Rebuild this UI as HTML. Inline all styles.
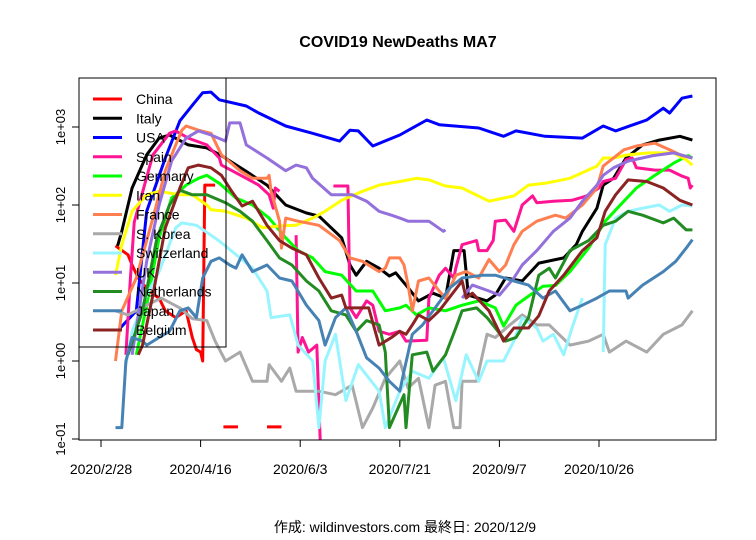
<!DOCTYPE html>
<html><head><meta charset="utf-8"><style>
body{margin:0;background:#fff;}
svg{display:block;font-family:"Liberation Sans","Noto Sans CJK JP",sans-serif;}
</style></head><body>
<svg id="chart" width="756" height="540" viewBox="0 0 756 540" xmlns="http://www.w3.org/2000/svg">
<rect width="756" height="540" fill="#fff"/>
<text x="398" y="47" text-anchor="middle" font-size="16" font-weight="bold">COVID19 NewDeaths MA7</text>
<text x="405" y="532" text-anchor="middle" font-size="14">作成: wildinvestors.com 最終日: 2020/12/9</text>
<defs><clipPath id="pc"><rect x="79" y="78" width="637" height="362"/></clipPath></defs>
<g id="axes"></g>
<g id="series" clip-path="url(#pc)"></g>
<rect x="79" y="78" width="637" height="362" fill="none" stroke="#000" stroke-width="1"/>
<g id="legend"></g>
</svg>
<script>
// x = days since 2020-02-28
const xTickDays = [0, 48, 96, 144, 192, 240];
const xTickLabels = ["2020/2/28", "2020/4/16", "2020/6/3", "2020/7/21", "2020/9/7", "2020/10/26"];
const yTickValues = [0.1, 1, 10, 100, 1000];
const yTickLabels = ["1e-01", "1e+00", "1e+01", "1e+02", "1e+03"];
const seriesNames = ["China","Italy","USA","Spain","Germany","Iran","France","S. Korea","Switzerland","UK","Netherlands","Japan","Belgium"];
const seriesColors = ["#ff0000","#000000","#0000ff","#ff1493","#00ff00","#ffff00","#ff7f50","#a9a9a9","#98f5ff","#9370db","#228b22","#4682b4","#8b2323"];
// each series: days and values (null = gap)
const chinaDays = [7,13,15,18,23,28,31,36,41,44,46,48,49,50,55,null,59,66,null,80,87];
const chinaVals = [30,23,17,11.6,7.9,6.4,4.4,3.6,4.4,2.0,1.4,1.3,1.0,180,180,null,0.143,0.143,null,0.143,0.143];
const italyDays = [8,10,15,22,28,33,42,51,58,70,80,89,99,105,116,120,123,128,134,139,142,148,153,160,166,170,175,177,186,190,195,203,211,223,229,232,239,242,247,253,261,269,279,285];
const italyVals = [30,46,165,440,720,790,590,540,430,270,180,100,79,72,38,17,12.6,19,15.5,12.3,13.5,8.7,5.9,7.4,6.4,26,26,7,5.9,7,11.6,10.6,18,21,31,46,91,180,220,400,590,680,760,680];
const usaDays = [9,17,22,31,38,44,49,53,57,70,76,89,102,115,120,124,131,144,157,163,182,194,200,214,232,242,248,263,271,274,280,285];
const usaVals = [2.6,4.4,83,400,1200,1900,2750,2800,2230,1860,1510,1030,830,660,910,890,570,790,1230,1070,970,760,890,760,720,1030,890,1230,1740,1510,2340,2500];
const spainDays = [12,14,16,25,33,36,42,51,57,58,70,76,81,83,84,86,null,94,95,97,100,104,106,null,112,119,120,123,128,131,134,139,144,147,157,158,163,166,170,171,174,181,182,186,189,190,195,199,203,208,210,218,227,234,240,242,248,253,256,258,267,274,280,283,284,285];
const spainVals = [1.2,10,60,440,830,890,720,590,400,325,220,180,135,91,165,150,null,41,1.3,2,1.3,1.6,0.05,null,175,175,4.8,3.6,5.9,5.2,2.4,2.2,2.4,1.8,1.85,6.4,12.6,15.5,11.6,15.5,31,35,26,26,35,62,64,46,100,131,107,112,115,131,165,200,220,380,400,300,280,280,235,220,165,180];
const germanyDays = [17,22,28,34,41,47,51,57,65,73,81,89,95,102,108,116,123,131,137,144,147,152,158,166,174,182,190,194,200,206,213,219,226,235,243,252,258,267,276,283,285];
const germanyVals = [1.2,5.2,38,123,180,220,240,190,123,100,68,38,26,21,14,12.6,7.9,7.9,4.4,4.8,5.2,3.9,4.8,4.4,5.2,5.9,4.8,2.8,5.2,6.8,9.1,9.3,14,28,62,112,165,240,345,430,400];
const iranDays = [7,10,15,22,28,38,44,51,53,60,70,78,86,94,102,108,116,126,134,144,152,158,166,174,187,199,206,214,226,239,242,247,254,264,276,282,285];
const iranVals = [12.6,31,83,135,150,135,135,100,87,83,68,51,54,55,68,83,115,150,180,200,220,210,175,165,112,131,180,190,220,315,400,400,440,465,465,380,325];
const franceDays = [7,10,17,25,31,36,39,41,47,53,58,67,73,80,81,82,86,87,89,95,105,115,120,126,134,137,139,144,146,148,150,153,158,163,166,171,176,182,187,192,195,199,203,210,219,224,232,239,242,252,258,267,274,280,285];
const franceVals = [1.0,4.4,11.6,68,275,590,910,1030,910,830,440,275,220,220,240,150,62,28,68,62,55,35,21,19,14,15.5,21,21,17,9.4,4.4,10.6,11.6,7.9,6.4,12.6,14,11.6,20,14,17,31,46,62,74,68,100,165,315,510,570,620,510,430,400];
const koreaDays = [7,13,22,29,38,44,51,55,60,67,73,80,81,87,91,94,105,113,121,126,131,137,144,148,153,158,161,166,170,173,174,181,186,190,197,203,210,216,226,235,242,245,253,263,271,280,285];
const koreaVals = [4.4,3.9,5.2,6.4,4.8,3.5,3.3,1.8,1.0,1.3,0.55,0.55,0.9,0.55,0.81,0.41,0.41,0.37,0.49,0.14,0.25,0.6,1.0,0.45,0.6,0.14,0.49,0.55,0.14,0.14,0.55,0.55,2.2,2.0,2.9,3.9,2.9,2.9,1.6,1.8,2.2,1.3,1.8,1.3,2.2,2.9,4.4];
const swissDays = [12,15,22,28,36,39,46,53,58,67,73,80,82,91,95,102,105,108,113,118,124,134,137,144,150,158,165,171,176,182,186,194,199,203,210,213,218,223,227,232,null,242,243,248,254,261,269,274,280,285];
const swissVals = [0.9,2.4,7,14,51,59,55,41,33,21,15.5,7.9,3.6,3.9,1.6,1.0,0.14,1.0,2.2,0.31,0.9,0.41,0.14,0.41,0.74,0.6,1.1,0.31,1.2,0.55,1.0,1.0,1.8,3.6,2.65,1.8,2.2,1.2,2.65,6.4,null,1.3,31,68,83,91,100,83,100,97];
const ukDays = [15,22,28,34,41,47,53,60,62,67,70,80,89,94,99,102,111,121,128,134,140,144,148,158,165,166,null,174,179,187,192,199,203,210,218,226,232,239,242,247,254,266,276,285];
const ukVals = [1.2,19,100,365,720,890,790,660,1130,1130,590,400,275,325,300,220,135,135,112,83,74,68,62,62,46,48,null,6.4,9.4,7.9,7,11.6,17,26,46,68,112,180,240,300,365,430,465,400];
const nethDays = [13,20,27,33,38,44,51,60,67,73,80,86,92,99,105,111,118,123,128,134,137,139,146,147,150,157,160,166,171,174,181,186,190,195,200,206,211,216,219,226,235,242,248,254,261,271,276,282,285];
const nethVals = [1.2,4.4,38,100,155,135,135,107,83,62,35,21,17,10.6,7.9,4.4,3.9,2.4,3.3,2.9,1.3,0.14,0.37,0.14,1.2,1.3,0.74,1.2,2.65,4.4,4.8,3.6,2.65,1.8,2.0,3.6,12.6,15.5,11.6,26,35,55,62,83,74,59,68,48,48];
const japanDays = [7,10,12,15,20,22,28,33,38,42,46,49,53,57,62,65,68,73,80,86,92,99,105,108,113,118,123,128,134,139,144,146,150,155,161,168,174,184,190,199,206,213,219,226,232,239,245,253,254,261,271,277,282,285];
const japanVals = [0.14,0.14,1.0,2.0,1.8,1.6,2.0,2.4,4.4,4.8,3.6,11.6,19,21,17,15.5,23,14,17,11.6,10.6,5.2,3.3,1.6,3.6,4.8,2.4,1.1,0.81,0.55,0.41,0.74,2.2,2.9,4.8,8.6,11.6,12.6,12.6,10.6,9.4,6.4,7.9,4.4,5.2,6.4,7.9,7.9,6.4,9.4,14,19,28,36];
const belgiumDays = [18,20,25,31,38,42,47,53,58,63,68,73,80,86,92,99,105,111,116,118,129,134,140,144,147,150,153,158,163,174,176,179,187,194,199,206,211,216,223,232,239,243,248,254,263,271,279,285];
const belgiumVals = [1.2,1.6,7,51,165,300,325,300,240,150,97,112,55,35,28,23,11.6,6.4,7,4.8,4.8,1.6,2.0,2.4,2.2,2.9,3.9,3.3,4.4,10.6,6.4,7.4,4.4,1.8,2.65,2.65,3.8,7.9,12.6,26,38,83,135,210,200,165,115,100];

const allDays = [chinaDays,italyDays,usaDays,spainDays,germanyDays,iranDays,franceDays,koreaDays,swissDays,ukDays,nethDays,japanDays,belgiumDays];
const allVals = [chinaVals,italyVals,usaVals,spainVals,germanyVals,iranVals,franceVals,koreaVals,swissVals,ukVals,nethVals,japanVals,belgiumVals];

const NS = "http://www.w3.org/2000/svg";
function xScale(d){ return 101 + 2.075 * d; }
function yScale(v){ return 361 - 78 * Math.log10(v); }
function mk(tag, attrs){ const e = document.createElementNS(NS, tag); for (const k in attrs) e.setAttribute(k, attrs[k]); return e; }

const axes = document.getElementById('axes');
const xAxis = mk('line', {x1: xScale(xTickDays[0]), x2: xScale(xTickDays[xTickDays.length-1]), y1: 440, y2: 440, stroke: '#000'});


axes.appendChild(xAxis);
xTickDays.forEach((d, i) => {
  const x = xScale(d);
  const t = mk('line', {x1: x, x2: x, y1: 440, y2: 447, stroke: '#000'});
  
  
  axes.appendChild(t);
  const l = mk('text', {x: x, y: 474, 'text-anchor': 'middle', 'font-size': 14});
  
  
  l.textContent = xTickLabels[i];
  axes.appendChild(l);
});
const yAxis = mk('line', {x1: 79, x2: 79, y1: yScale(yTickValues[0]), y2: yScale(yTickValues[yTickValues.length-1]), stroke: '#000'});


axes.appendChild(yAxis);
yTickValues.forEach((v, i) => {
  const y = yScale(v);
  const t = mk('line', {x1: 72, x2: 79, y1: y, y2: y, stroke: '#000'});
  
  
  axes.appendChild(t);
  const l = mk('text', {x: 65, y: y, 'text-anchor': 'middle', 'font-size': 13, transform: 'rotate(-90 65 ' + y + ')'});
  
  
  l.textContent = yTickLabels[i];
  axes.appendChild(l);
});

const sg = document.getElementById('series');
allDays.forEach((days, si) => {
  const vals = allVals[si];
  let d = '', pen = false;
  for (let i = 0; i < days.length; i++) {
    if (days[i] === null || vals[i] === null) { pen = false; continue; }
    d += (pen ? 'L' : 'M') + xScale(days[i]).toFixed(1) + ' ' + yScale(vals[i]).toFixed(1) + ' ';
    pen = true;
  }
  const p = mk('path', {d: d, fill: 'none', stroke: seriesColors[si], 'stroke-width': 3, 'stroke-linejoin': 'round'});
  
  
  sg.appendChild(p);
});

const lg = document.getElementById('legend');
const box = mk('rect', {x: 79, y: 78, width: 147, height: 269, fill: 'none', stroke: '#000'});


lg.appendChild(box);
seriesNames.forEach((n, i) => {
  const y = 99 + i * 19.25;
  const ln = mk('line', {x1: 93, x2: 122, y1: y, y2: y, stroke: seriesColors[i], 'stroke-width': 3});
  
  
  lg.appendChild(ln);
  const t = mk('text', {x: 136, y: y + 5, 'font-size': 14});
  
  
  t.textContent = n;
  lg.appendChild(t);
});
</script>
</body></html>
